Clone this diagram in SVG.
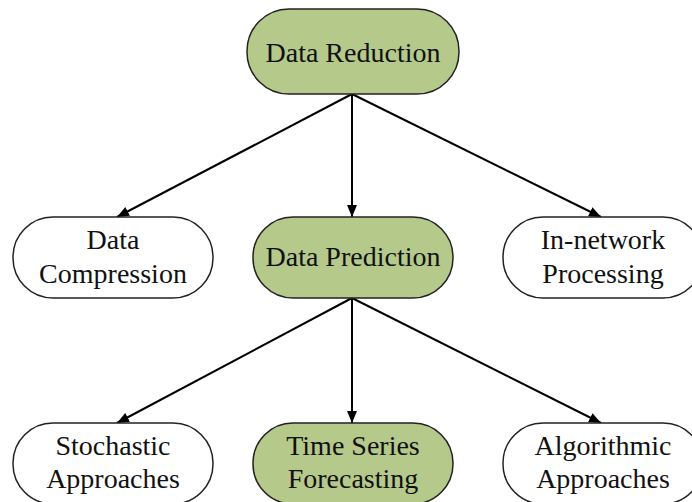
<svg xmlns="http://www.w3.org/2000/svg" width="692" height="502" viewBox="0 0 692 502">
<defs>
<marker id="ah" viewBox="0 0 12 10" refX="12" refY="5" markerWidth="12" markerHeight="10" markerUnits="userSpaceOnUse" orient="auto">
<path d="M0,0 L12,5 L0,10 Z" fill="#000"/>
</marker>
<style>
.n rect{stroke:#222;stroke-width:1.5}
.g rect{fill:#b5c98b}
.w rect{fill:#fff}
text{font-family:"Liberation Serif","Times New Roman",serif;font-size:28px;fill:#111;text-anchor:middle}
.e line{stroke:#000;stroke-width:2;marker-end:url(#ah)}
</style>
</defs>
<rect width="692" height="502" fill="#fff"/>
<g id="edges" class="e">
<line x1="352" y1="94" x2="117" y2="217"/>
<line x1="352" y1="94" x2="352" y2="217"/>
<line x1="352" y1="94" x2="601" y2="217"/>
<line x1="352" y1="298" x2="117" y2="423"/>
<line x1="352" y1="298" x2="352" y2="423"/>
<line x1="352" y1="298" x2="601" y2="423"/>
</g>
<g id="data-reduction" class="n g">
<rect x="247" y="9" width="212" height="85" rx="42"/>
<text x="353" y="62">Data Reduction</text>
</g>
<g id="data-compression" class="n w">
<rect x="13" y="217" width="200" height="81" rx="40"/>
<text x="113" y="249">Data</text>
<text x="113" y="283">Compression</text>
</g>
<g id="data-prediction" class="n g">
<rect x="253" y="217" width="200" height="81" rx="40"/>
<text x="353" y="266">Data Prediction</text>
</g>
<g id="in-network" class="n w">
<rect x="503" y="217" width="200" height="81" rx="40"/>
<text x="603" y="249">In-network</text>
<text x="603" y="283">Processing</text>
</g>
<g id="stochastic" class="n w">
<rect x="13" y="423" width="200" height="81" rx="40"/>
<text x="113" y="455">Stochastic</text>
<text x="113" y="488">Approaches</text>
</g>
<g id="time-series" class="n g">
<rect x="253" y="423" width="200" height="81" rx="40"/>
<text x="353" y="455">Time Series</text>
<text x="353" y="488">Forecasting</text>
</g>
<g id="algorithmic" class="n w">
<rect x="503" y="423" width="200" height="81" rx="40"/>
<text x="603" y="455">Algorithmic</text>
<text x="603" y="488">Approaches</text>
</g>
</svg>
